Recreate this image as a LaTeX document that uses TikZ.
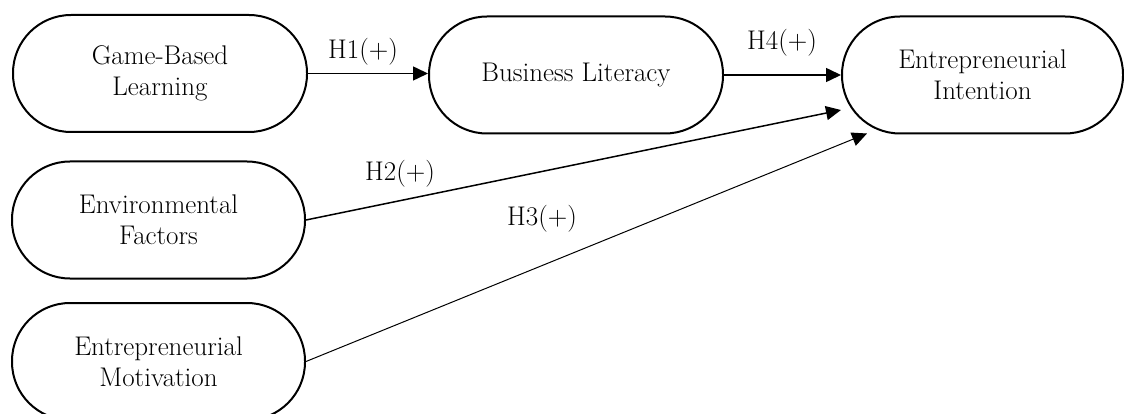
\documentclass[tikz,border=0pt]{standalone}
\usetikzlibrary{arrows.meta,calc}
\begin{document}
\begin{tikzpicture}[x=1pt,y=-1pt,
  box/.style={draw,line width=2pt,rounded corners=58pt,minimum width=294pt,minimum height=117pt,
    align=center,font=\fontsize{27}{31}\selectfont,inner sep=0pt},
  lab/.style={font=\fontsize{27}{31}\selectfont,inner sep=0pt},
  arr/.style={line width=1.5pt,-{Triangle[length=15pt,width=14pt]}}]
\useasboundingbox (0,0) rectangle (1124,414);
\clip (0,0) rectangle (1124,414);
\node[box] (gbl) at (160,73.5) {Game-Based\\Learning};
\node[box] (bl) at (576,75) {Business Literacy};
\node[box,minimum width=281pt] (ei) at (982.5,75) {Entrepreneurial\\Intention};
\node[box,minimum width=293pt] (ef) at (158.5,220) {Environmental\\Factors};
\node[box,minimum width=293pt] (em) at (158.5,361.5) {Entrepreneurial\\Motivation};
\draw[arr] (gbl.east) -- (gbl.east -| bl.west);
\draw[arr] (bl.east) -- (ei.west);
\draw[arr] (ef.east) -- ($(ei.west)+(0,35)$);
\draw[arr,line width=1pt] (em.east) -- ($(ei.south west)+(26,-1)$);
\node[lab] (h1) at (363,52) {H1(+)};
\node[lab] (h4) at (782,43) {H4(+)};
\node[lab] (h2) at (400,174) {H2(+)};
\node[lab] (h3) at (542,219) {H3(+)};
\end{tikzpicture}
\end{document}
